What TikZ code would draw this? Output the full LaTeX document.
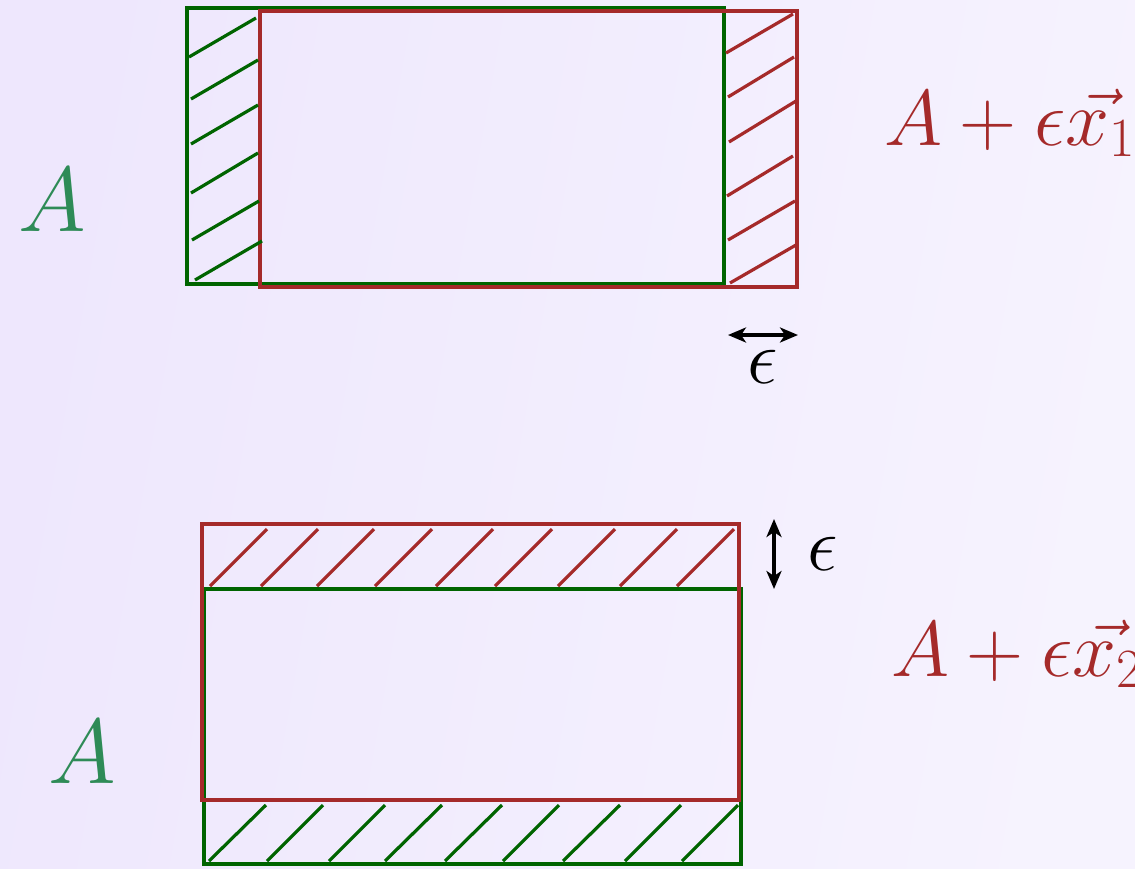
\RequirePackage{fix-cm}
\documentclass[tikz,border=0pt]{standalone}
\usepackage{tikz}
\usetikzlibrary{arrows.meta}
\definecolor{redc}{HTML}{A52A2A}
\definecolor{greenc}{HTML}{006400}
\definecolor{greentext}{HTML}{2E8B57}
\definecolor{bgl}{HTML}{EEE7FD}
\definecolor{bgr}{HTML}{F6F3FE}
\begin{document}
\begin{tikzpicture}[x=1pt,y=-1pt,
  redline/.style={draw=redc,line width=3.2pt},
  greenline/.style={draw=greenc,line width=3.2pt},
  hatchr/.style={draw=redc,line width=3.2pt},
  hatchg/.style={draw=greenc,line width=3.2pt},
  epsarrow/.style={line width=3.3pt,{Stealth[length=18pt,width=15pt,inset=5pt]}-{Stealth[length=18pt,width=15pt,inset=5pt]}},
  bigA/.style={inner sep=0pt,anchor=base west,text=greentext,font=\fontsize{92}{96}\selectfont},
  redlabel/.style={inner sep=0pt,anchor=base west,text=redc,font=\fontsize{79}{84}\selectfont},
  epslabel/.style={inner sep=0pt,anchor=base,text=black,font=\fontsize{77}{80}\selectfont}]
\useasboundingbox (0,0) rectangle (1135,868);
\shade[left color=bgl,right color=bgr,shading angle=80] (0,0) rectangle (1135,868);

% ---------- top figure ----------
\draw[greenline] (187,8) rectangle (724,284);
\draw[redline] (260,11) rectangle (797,287);
% green hatches (left strip)
\draw[hatchg] (189,57) -- (256,18);
\draw[hatchg] (191,99) -- (258,60);
\draw[hatchg] (191,144) -- (258,105);
\draw[hatchg] (191,193) -- (258,153);
\draw[hatchg] (192,240) -- (259,201);
\draw[hatchg] (195,280) -- (262,241);
% red hatches (right strip)
\draw[hatchr] (726,53) -- (793,14);
\draw[hatchr] (728,97) -- (794,57);
\draw[hatchr] (729,142) -- (796,101);
\draw[hatchr] (727,196) -- (793,156);
\draw[hatchr] (728,240) -- (795,201);
\draw[hatchr] (730,283) -- (796,245);
% epsilon arrow
\coordinate (h1) at (728,335);
\coordinate (h2) at (798,335);
\draw[epsarrow] (h1) -- (h2);
\node[epslabel] (eps1) at (763,383) {$\epsilon$};
\node[bigA] (A1) at (18,231) {$A$};
\node[redlabel] (L1) at (884,145) {$A+\epsilon\vec{x_1}$};

% ---------- bottom figure ----------
\draw[greenline] (204,589) rectangle (741,864);
\draw[redline] (202,524) rectangle (739,800);
% red hatches (top strip)
\foreach \a/\b in {210/267,261/318,317/374,375/432,436/493,495/552,558/615,620/677,677/734}
  \draw[hatchr] (\a,586) -- (\b,529);
% green hatches (bottom strip)
\foreach \a/\b in {209/266,267/323,329/385,385/442,445/502,503/559,563/620,625/681,682/738}
  \draw[hatchg] (\a,861) -- (\b,805);
% epsilon arrow
\coordinate (v1) at (774,519);
\coordinate (v2) at (774,589);
\draw[epsarrow] (v1) -- (v2);
\node[epslabel] (eps2) at (823,570) {$\epsilon$};
\node[bigA] (A2) at (48,783) {$A$};
\node[redlabel] (L2) at (891,676) {$A+\epsilon\vec{x_2}$};
\end{tikzpicture}
\end{document}
